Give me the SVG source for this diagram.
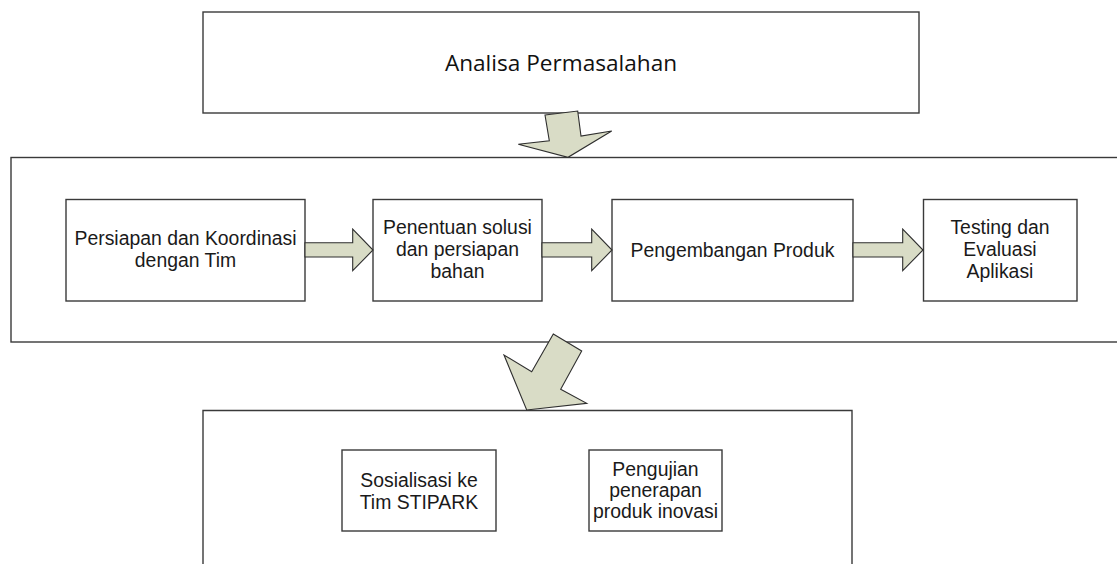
<svg xmlns="http://www.w3.org/2000/svg" width="1117" height="564" viewBox="0 0 1117 564">
<style>
.box{fill:#fff;stroke:#3a3a3a;stroke-width:1.4}
.arr{fill:#d9dcc6;stroke:#2e2e2e;stroke-width:1.1;stroke-linejoin:miter}
.t{font-family:"Liberation Sans",Arial,sans-serif;font-size:19.4px;fill:#1a1a1a;text-anchor:middle}
.tc{font-family:"Open Sans","Liberation Sans",sans-serif;font-size:22.6px;fill:#111;text-anchor:middle}
</style>
<rect width="1117" height="564" fill="#fff"/>
<g id="analisa">
<rect class="box" x="203" y="12" width="716" height="101"/>
<text class="tc" x="561" y="71">Analisa Permasalahan</text>
</g>
<g id="tahap">
<rect class="box" x="11" y="157.5" width="1120" height="184.5"/>
</g>
<g id="persiapan">
<rect class="box" x="66" y="199.5" width="239" height="101.5"/>
<text class="t" x="185.5" y="245">Persiapan dan Koordinasi</text>
<text class="t" x="185.5" y="267">dengan Tim</text>
</g>
<g id="penentuan">
<rect class="box" x="373" y="199.5" width="169" height="101.5"/>
<text class="t" x="457.5" y="234">Penentuan solusi</text>
<text class="t" x="457.5" y="256">dan persiapan</text>
<text class="t" x="457.5" y="278">bahan</text>
</g>
<g id="pengembangan">
<rect class="box" x="612" y="199.5" width="241" height="101.5"/>
<text class="t" x="732.5" y="257">Pengembangan Produk</text>
</g>
<g id="testing">
<rect class="box" x="923.5" y="199.5" width="153.5" height="101.5"/>
<text class="t" x="1000" y="234">Testing dan</text>
<text class="t" x="1000" y="256">Evaluasi</text>
<text class="t" x="1000" y="278">Aplikasi</text>
</g>
<g id="implementasi">
<path class="box" d="M203 566 V410.5 H852 V566"/>
</g>
<g id="sosialisasi">
<rect class="box" x="342" y="450" width="154" height="81"/>
<text class="t" x="419" y="487">Sosialisasi ke</text>
<text class="t" x="419" y="509">Tim STIPARK</text>
</g>
<g id="pengujian">
<rect class="box" x="589" y="450" width="133" height="81"/>
<text class="t" x="655.5" y="476">Pengujian</text>
<text class="t" x="655.5" y="497">penerapan</text>
<text class="t" x="655.5" y="518">produk inovasi</text>
</g>
<g id="connectors">
<polygon class="arr" points="305,242.7 352.7,242.7 352.7,229 373,250 352.7,270.7 352.7,257 305,257"/>
<polygon class="arr" points="542,242.7 591.7,242.7 591.7,229 612,250 591.7,270.7 591.7,257 542,257"/>
<polygon class="arr" points="853,242.7 902.7,242.7 902.7,229 923,250 902.7,270.7 902.7,257 853,257"/>
<polygon class="arr" points="545,115 577.7,111 581,136 611.7,131 568,157.3 518.3,144.3 549.3,140.7"/>
<polygon class="arr" points="553.3,334 581.7,351 560.7,389.3 586.7,403.3 526.7,410 504,355 531.7,371.7"/>
</g>
</svg>
